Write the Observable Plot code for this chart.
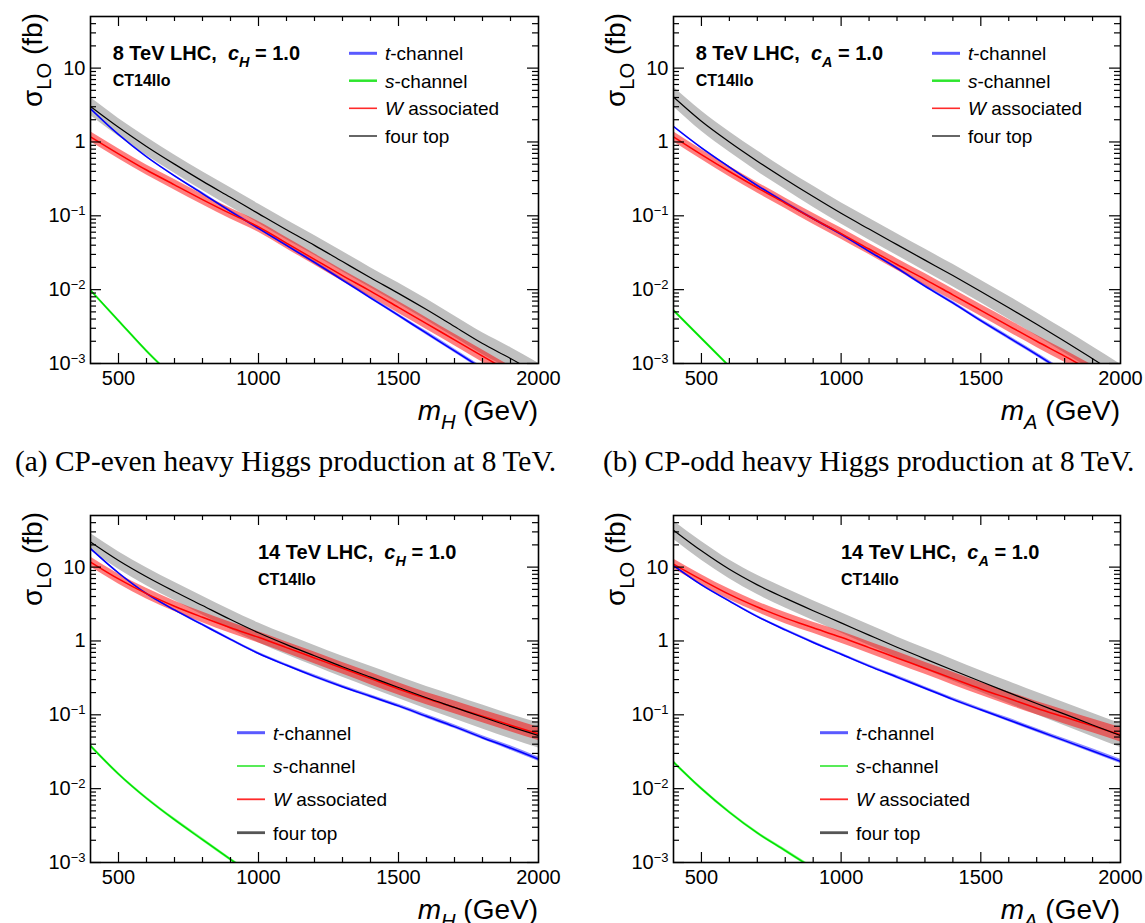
<!DOCTYPE html>
<html><head><meta charset="utf-8">
<script src="https://cdn.jsdelivr.net/npm/d3@7"></script>
<script src="https://cdn.jsdelivr.net/npm/@observablehq/plot@0.6"></script>
<style>
body{margin:0;background:#fff;width:1145px;height:923px;position:relative;overflow:hidden;}
.panel{position:absolute;}
.cap{position:absolute;font-family:"Liberation Serif","Times New Roman",serif;font-size:29.4px;white-space:nowrap;color:#000;line-height:30px;}
</style></head><body>
<div id="p1" class="panel" style="left:0px;top:0px;width:572px"></div>
<div id="p2" class="panel" style="left:572px;top:0px;width:573px"></div>
<div id="p3" class="panel" style="left:0px;top:490px;width:572px"></div>
<div id="p4" class="panel" style="left:572px;top:490px;width:573px"></div>
<div class="cap" style="left:15px;top:446px">(a) CP-even heavy Higgs production at 8&#8201;TeV.</div>
<div class="cap" style="left:603px;top:446px">(b) CP-odd heavy Higgs production at 8&#8201;TeV.</div>
<script>
// Heavy Higgs mass points (GeV)
const mass = [400,500,600,700,800,900,1000,1100,1200,1300,1400,1500,1600,1700,1800,1900,2000];

// (a) 8 TeV, CP-even (c_H = 1.0), sigma_LO in fb
const even8_tch  = [2.82,1.26,0.631,0.347,0.200,0.115,0.0676,0.0398,0.0234,0.0135,0.00776,0.00447,0.00257,0.00148,0.000851,null,null];
const even8_sch  = [0.0098,0.0038,0.00148,0.00063,null,null,null,null,null,null,null,null,null,null,null,null,null];
const even8_wass = [1.175,0.692,0.417,0.263,0.166,0.107,0.0708,0.0427,0.0257,0.0155,0.00955,0.00575,0.00347,0.00209,0.00126,0.000759,null];
const even8_four = [3.02,1.58,0.871,0.501,0.295,0.178,0.107,0.0646,0.0398,0.0240,0.0145,0.00891,0.00537,0.00316,0.00186,0.00117,0.000708];

// (b) 8 TeV, CP-odd (c_A = 1.0)
const odd8_tch  = [1.62,0.832,0.457,0.257,0.151,0.0912,0.0562,0.0331,0.0195,0.0112,0.00661,0.00380,0.00224,0.00132,0.000759,null,null];
const odd8_sch  = [0.00525,0.00219,0.000912,null,null,null,null,null,null,null,null,null,null,null,null,null,null];
const odd8_wass = [1.175,0.676,0.398,0.240,0.148,0.0912,0.0575,0.0355,0.0219,0.0138,0.00851,0.00525,0.00324,0.00200,0.00126,0.000776,null];
const odd8_four = [4.07,1.91,1.00,0.550,0.313,0.182,0.108,0.0661,0.0407,0.0251,0.0155,0.00944,0.00569,0.00339,0.00200,0.00116,0.000668];

// 14 TeV, CP-even (c_H = 1.0)
const even14_tch  = [17.8,8.32,4.37,2.63,1.66,1.05,0.676,0.468,0.331,0.240,0.178,0.132,0.0955,0.0692,0.0490,0.0355,0.0251];
const even14_sch  = [0.0380,0.0158,0.00741,0.00380,0.00204,0.00110,0.000603,null,null,null,null,null,null,null,null,null,null];
const even14_wass = [11.7,6.92,4.37,2.95,2.09,1.51,1.12,0.813,0.589,0.427,0.309,0.224,0.166,0.126,0.0955,0.0724,0.0550];
const even14_four = [21.9,12.3,7.41,4.68,3.02,1.95,1.29,0.891,0.631,0.447,0.324,0.234,0.170,0.126,0.0933,0.0692,0.0525];

// 14 TeV, CP-odd (c_A = 1.0)
const odd14_tch  = [10.5,5.75,3.47,2.14,1.41,0.955,0.661,0.457,0.324,0.229,0.162,0.117,0.0851,0.0617,0.0447,0.0324,0.0234];
const odd14_sch  = [0.0229,0.0100,0.00479,0.00251,0.00145,0.000832,null,null,null,null,null,null,null,null,null,null,null];
const odd14_wass = [11.0,6.76,4.27,2.88,2.04,1.51,1.12,0.813,0.589,0.427,0.309,0.224,0.166,0.123,0.0933,0.0708,0.0537];
const odd14_four = [31.6,16.6,9.33,5.75,3.80,2.57,1.76,1.20,0.822,0.573,0.401,0.282,0.200,0.142,0.102,0.0729,0.0525];

// Scale-uncertainty band (multiplicative factor up / down)
const even8_fourBand  = [1.32,1.32,1.33,1.33,1.34,1.35,1.35,1.36,1.36,1.37,1.37,1.38,1.39,1.39,1.40,1.41,1.42];
const odd8_fourBand   = [1.36,1.37,1.37,1.38,1.38,1.39,1.39,1.40,1.40,1.41,1.42,1.42,1.43,1.44,1.44,1.45,1.46];
const even14_fourBand = [1.30,1.31,1.32,1.33,1.34,1.35,1.36,1.37,1.38,1.39,1.40,1.41,1.42,1.44,1.45,1.46,1.48];
const odd14_fourBand  = [1.33,1.34,1.34,1.35,1.36,1.36,1.37,1.38,1.38,1.39,1.40,1.40,1.41,1.42,1.43,1.44,1.45];
const even8_wassBand  = [1.17,1.17,1.17,1.18,1.18,1.18,1.18,1.19,1.19,1.19,1.19,1.20,1.20,1.20,1.21,1.21,1.21];
const odd8_wassBand   = [1.17,1.17,1.18,1.18,1.18,1.19,1.19,1.19,1.20,1.20,1.20,1.20,1.21,1.21,1.21,1.22,1.22];
const even14_wassBand = [1.17,1.17,1.18,1.18,1.18,1.19,1.19,1.19,1.20,1.20,1.21,1.21,1.21,1.22,1.22,1.23,1.23];
const odd14_wassBand  = [1.17,1.17,1.18,1.18,1.19,1.19,1.20,1.20,1.21,1.21,1.22,1.22,1.23,1.23,1.24,1.24,1.25];
const tchBand = [1.03,1.03,1.03,1.03,1.04,1.04,1.04,1.04,1.05,1.05,1.05,1.05,1.06,1.06,1.06,1.07,1.07];
const schBand = [1.05,1.05,1.05,1.05,1.05,1.05,1.05,1.05,1.05,1.05,1.05,1.05,1.05,1.05,1.05,1.05,1.05];

// Axis ticks
const xLabelTicks = [500,1000,1500,2000];
const xMajorTicks = [500,1000,1500];
const xMinorTicks = [600,700,800,900,1100,1200,1300,1400,1600,1700,1800,1900];
const yLabelTicks = [0.001,0.01,0.1,1,10];
const yMinorTicks = [0.002,0.003,0.004,0.005,0.006,0.007,0.008,0.009,0.02,0.03,0.04,0.05,0.06,0.07,0.08,0.09,
                     0.2,0.3,0.4,0.5,0.6,0.7,0.8,0.9,2,3,4,5,6,7,8,9,20,30,40];
const legendLabels = [[{t:"t",it:true},{t:"-channel"}],[{t:"s",it:true},{t:"-channel"}],[{t:"W",it:true},{t:" associated"}],[{t:"four top"}]];

const FONT = '"Liberation Sans", Arial, Helvetica, sans-serif';

const panels = [
  {id:"p1", w:572, h:430, mL:90, mR:34, mT:16, mB:67, energy:"8", boson:"H", legend:"top",
   t:even8_tch, s:even8_sch, wa:even8_wass, f:even8_four, wb:even8_wassBand, fb:even8_fourBand},
  {id:"p2", w:573, h:430, mL:101, mR:25, mT:16, mB:67, energy:"8", boson:"A", legend:"top",
   t:odd8_tch, s:odd8_sch, wa:odd8_wass, f:odd8_four, wb:odd8_wassBand, fb:odd8_fourBand},
  {id:"p3", w:572, h:433, mL:90, mR:34, mT:25, mB:61, energy:"14", boson:"H", legend:"bottom",
   t:even14_tch, s:even14_sch, wa:even14_wass, f:even14_four, wb:even14_wassBand, fb:even14_fourBand},
  {id:"p4", w:573, h:433, mL:101, mR:25, mT:25, mB:61, energy:"14", boson:"A", legend:"bottom",
   t:odd14_tch, s:odd14_sch, wa:odd14_wass, f:odd14_four, wb:odd14_wassBand, fb:odd14_fourBand}
];

function rows(values, band) {
  return mass.map((m, i) => values[i] == null ? {m, c: null, lo: null, hi: null}
    : {m, c: values[i], lo: values[i] / band[i], hi: values[i] * band[i]});
}

function rich(g, x, y, parts, size, opts = {}) {
  const t = g.append("text").attr("x", x).attr("y", y)
    .attr("font-size", size).attr("font-weight", opts.weight || "normal")
    .attr("text-anchor", opts.anchor || "start").attr("fill", "black")
    .style("white-space", "pre");
  if (opts.transform) t.attr("transform", opts.transform);
  let shift = 0;
  for (const p of parts) {
    const s = t.append("tspan").text(p.t);
    if (p.it) s.attr("font-style", "italic");
    const target = p.sub ? 0.32 : 0;
    const dy = target - shift;
    if (dy) s.attr("dy", (dy * size).toFixed(2));
    shift = target;
    if (p.sub) s.attr("font-size", (size * 0.72).toFixed(2));
  }
  return t;
}

for (const P of panels) {
  const W = P.w - P.mL - P.mR, H = P.h - P.mT - P.mB;
  const fR = rows(P.f, P.fb), tR = rows(P.t, tchBand), wR = rows(P.wa, P.wb), sR = rows(P.s, schBand);
  const crv = "monotone-x";
  const chart = Plot.plot({
    width: P.w, height: P.h,
    marginLeft: P.mL, marginRight: P.mR, marginTop: P.mT, marginBottom: P.mB,
    x: {type: "linear", domain: [400, 2000]},
    y: {type: "log", domain: [0.001, 50]},
    style: {fontFamily: FONT, fontSize: "20px", color: "black", background: "transparent", overflow: "visible"},
    marks: [
      Plot.areaY(fR, {x: "m", y1: "lo", y2: "hi", fill: "#c0c0c0", curve: crv, clip: true}),
      Plot.areaY(tR, {x: "m", y1: "lo", y2: "hi", fill: "#0000ff", fillOpacity: 0.45, curve: crv, clip: true}),
      Plot.areaY(wR, {x: "m", y1: "lo", y2: "hi", fill: "#ff0000", fillOpacity: 0.5, curve: crv, clip: true}),
      Plot.areaY(sR, {x: "m", y1: "lo", y2: "hi", fill: "#00ff00", fillOpacity: 0.5, curve: crv, clip: true}),
      Plot.line(tR, {x: "m", y: "c", stroke: "#0000ff", strokeWidth: 1.5, curve: crv, clip: true}),
      Plot.line(sR, {x: "m", y: "c", stroke: "#00e000", strokeWidth: 1.5, curve: crv, clip: true}),
      Plot.line(wR, {x: "m", y: "c", stroke: "#ff0000", strokeWidth: 1.5, curve: crv, clip: true}),
      Plot.line(fR, {x: "m", y: "c", stroke: "#000000", strokeWidth: 1.2, curve: crv, clip: true}),
      // inward ticks on all four sides
      Plot.tickX(xMajorTicks, {x: d => d, insetTop: H - 10, stroke: "black", strokeWidth: 1.2}),
      Plot.tickX(xMinorTicks, {x: d => d, insetTop: H - 5, stroke: "black", strokeWidth: 1.2}),
      Plot.tickX(xMajorTicks, {x: d => d, insetBottom: H - 10, stroke: "black", strokeWidth: 1.2}),
      Plot.tickX(xMinorTicks, {x: d => d, insetBottom: H - 5, stroke: "black", strokeWidth: 1.2}),
      Plot.tickY(yLabelTicks, {y: d => d, insetRight: W - 11, stroke: "black", strokeWidth: 1.2}),
      Plot.tickY(yMinorTicks, {y: d => d, insetRight: W - 6, stroke: "black", strokeWidth: 1.2}),
      Plot.tickY(yLabelTicks, {y: d => d, insetLeft: W - 11, stroke: "black", strokeWidth: 1.2}),
      Plot.tickY(yMinorTicks, {y: d => d, insetLeft: W - 6, stroke: "black", strokeWidth: 1.2}),
      Plot.axisX(xLabelTicks, {tickSize: 0, tickPadding: 7, tickFormat: d => String(d), label: null, fontSize: 20}),
      Plot.axisY(yLabelTicks, {tickSize: 0, tickPadding: 5, label: null, fontSize: 20,
        tickFormat: d => d >= 1 ? String(d) : "10^\u2212" + Math.round(-Math.log10(d))}),
      Plot.frame({stroke: "black", strokeWidth: 1.6})
    ]
  });
  document.getElementById(P.id).appendChild(chart);
  const svg = d3.select(chart);

  // superscripts in y tick labels
  svg.selectAll('g[aria-label="y-axis tick label"] text').each(function () {
    const s = this.textContent;
    const m = s.match(/^10\^(.+)$/);
    if (m) {
      this.textContent = "";
      const t = d3.select(this);
      t.append("tspan").text("10");
      t.append("tspan").attr("dy", "-7").attr("font-size", "13").text(m[1]);
    }
  });

  const g = svg.append("g").attr("font-family", FONT);
  const fx = P.mL, fy = P.mT;
  // axis titles
  rich(g, fx + W, fy + H + 57, [{t: "m", it: true}, {t: P.boson, it: true, sub: true}, {t: " (GeV)"}], 28, {anchor: "end"});
  rich(g, 0, 0, [{t: "\u03c3"}, {t: "LO", sub: true}, {t: " (fb)"}], 28,
       {anchor: "end", transform: `translate(${fx - 48},${fy - 3}) rotate(-90)`});
  // panel title
  const tx = P.legend === "top" ? fx + 22.7 : fx + 168;
  rich(g, tx, fy + 44.2, [{t: P.energy + " TeV LHC,  "}, {t: "c", it: true}, {t: P.boson, it: true, sub: true}, {t: " = 1.0"}], 20, {weight: "bold"});
  rich(g, tx, fy + 69.5, [{t: "CT14llo"}], 16, {weight: "bold"});
  // legend
  const top = P.legend === "top";
  const lx0 = top ? fx + 259 : fx + 147, lx1 = lx0 + 28, ltx = lx1 + 8;
  const ly = top ? [37.3, 64.7, 92.3, 120] : [217.7, 251, 284.3, 317.7];
  const sty = top
    ? [["#5a5aff", 3], ["#2ee62e", 2.5], ["#ff2a2a", 1.6], ["#000000", 1.2]]
    : [["#5a5aff", 3], ["#2ee62e", 1.6], ["#ff2a2a", 1.8], ["#555555", 2.8]];
  legendLabels.forEach((lab, i) => {
    const y = fy + ly[i];
    g.append("line").attr("x1", lx0).attr("x2", lx1).attr("y1", y).attr("y2", y)
      .attr("stroke", sty[i][0]).attr("stroke-width", sty[i][1]);
    rich(g, ltx, y + 6.8, lab, 19);
  });
}
</script>
</body></html>
